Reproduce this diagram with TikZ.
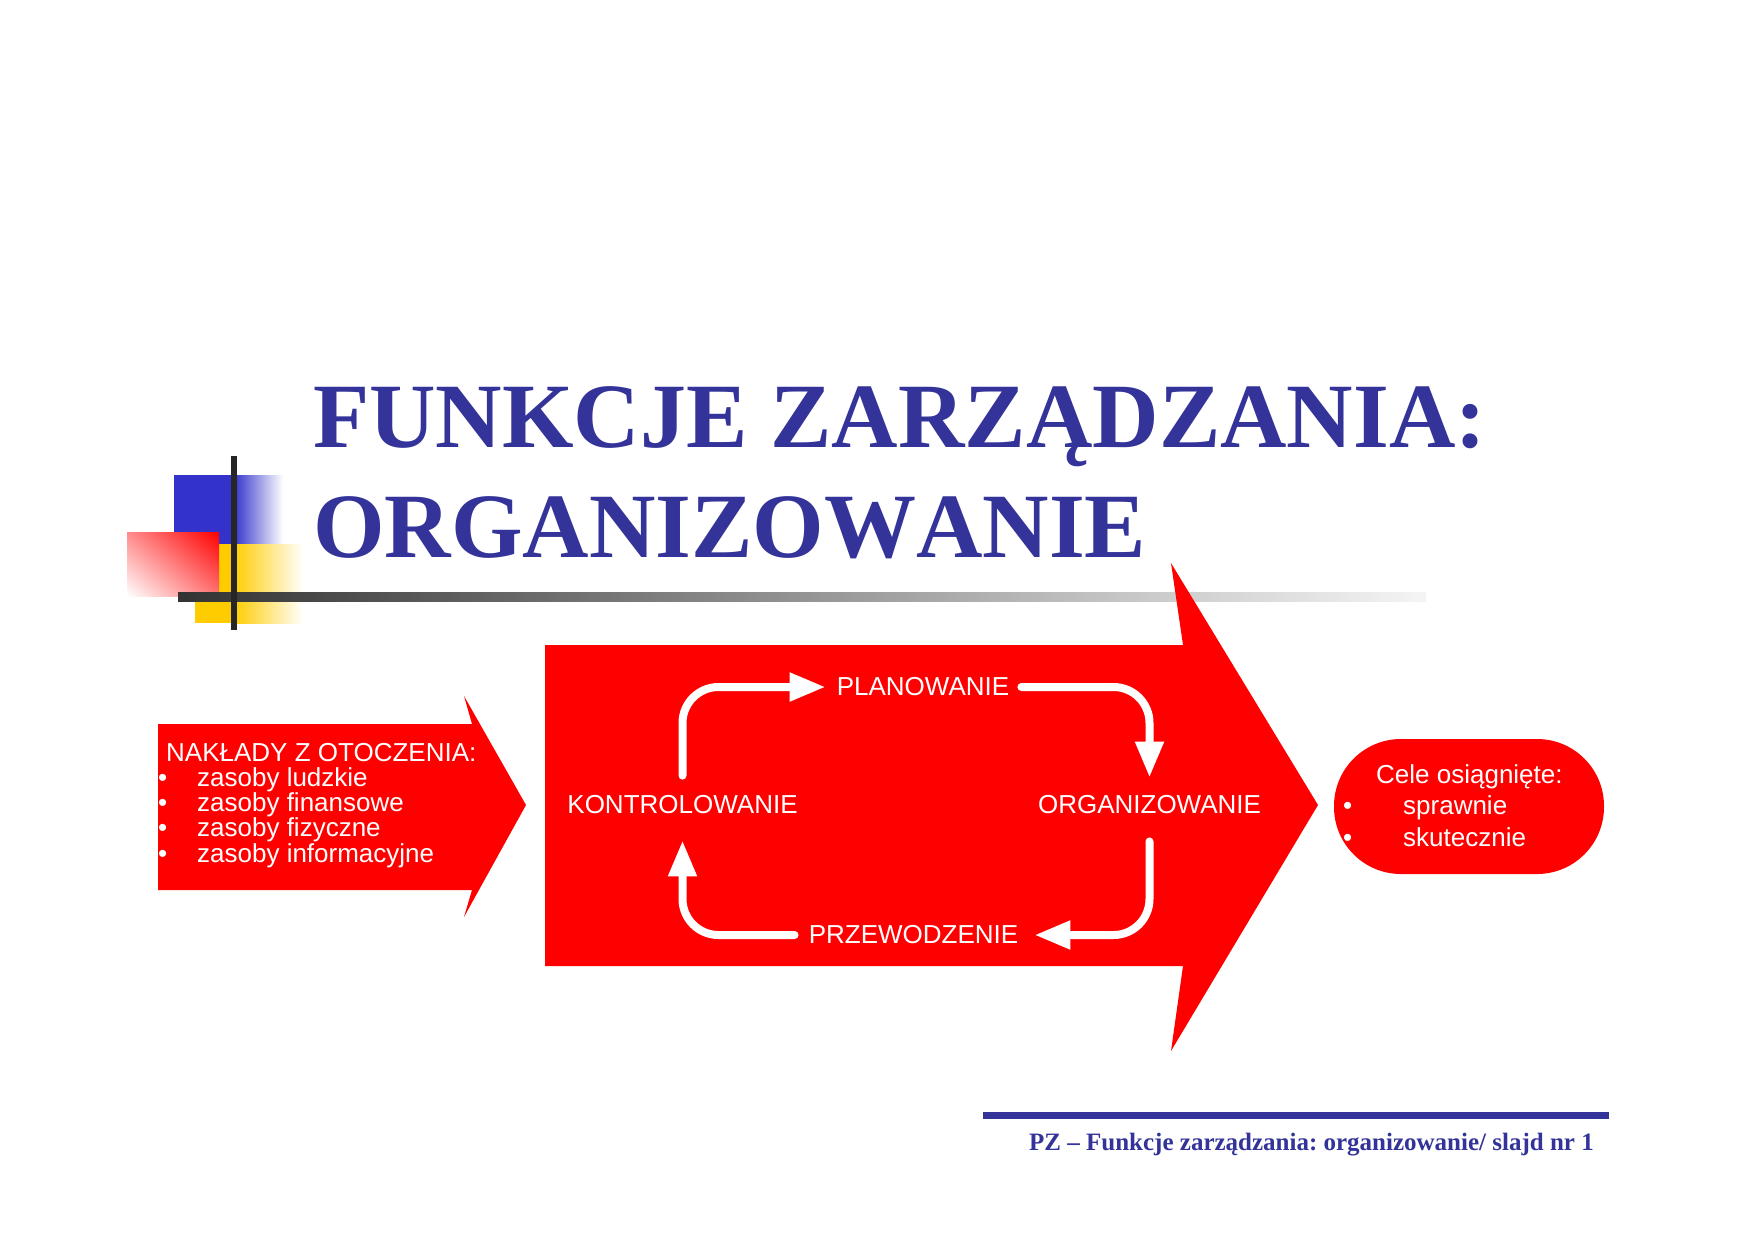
\documentclass[tikz,border=0pt]{standalone}
\usepackage{fontspec}
\setmainfont{Liberation Sans}
\newfontfamily\serifbold{Liberation Serif}[Kerning=Off]
\usetikzlibrary{arrows.meta,shadings}
\definecolor{titleblue}{RGB}{51,51,153}
\definecolor{logoblue}{RGB}{51,51,204}
\definecolor{logoyellow}{RGB}{255,204,0}
\definecolor{pptred}{RGB}{255,0,0}
\frenchspacing
\begin{document}
\begin{tikzpicture}[x=1pt,y=-1pt,
  wtext/.style={text=white, font=\fontsize{26}{26}\selectfont, inner sep=0pt},
  titletext/.style={text=titleblue, font=\serifbold\bfseries\fontsize{92}{92}\selectfont, inner sep=0pt, anchor=base west},
  cyc/.style={draw=white, line width=8pt, line cap=round, rounded corners=36pt, -{Triangle[length=36pt,width=27pt]}},
  redshape/.style={fill=pptred, draw=none}]
\useasboundingbox (0,0) rectangle (1754,1240);
\fill[white] (0,0) rectangle (1754,1240);

% logo
\fill[logoblue] (174,475) rectangle (234,544);
\shade[left color=logoblue, right color=white] (233.5,475) rectangle (283,544);
\fill[logoyellow] (195,544) rectangle (234,623);
\shade[left color=logoyellow, right color=white] (233.5,544) rectangle (303,623);
\shade[upper left=red!45, upper right=pptred, lower left=white, lower right=red!55] (127,532) rectangle (219,596);
\shade[left color=black!80, right color=black!4] (178,592) rectangle (1426,601);
\fill[black!85] (231,456) rectangle (237,630);

% title
\node[titletext] (t1) at (313,447) {FUNKCJE ZARZĄDZANIA:};
\node[titletext] (t2) at (313,557) {ORGANIZOWANIE};

% left arrow
\fill[redshape] (158,724) -- (472,724) -- (464,696) -- (526,805) -- (464,917) -- (472,890) -- (158,890) -- cycle;
\node[wtext, anchor=base west] (n0) at (166,761) {NAKŁADY Z OTOCZENIA:};
\node[wtext, anchor=base west] (n1) at (158,786) {\makebox[39pt][l]{•}zasoby ludzkie};
\node[wtext, anchor=base west] (n2) at (158,811) {\makebox[39pt][l]{•}zasoby finansowe};
\node[wtext, anchor=base west] (n3) at (158,836) {\makebox[39pt][l]{•}zasoby fizyczne};
\node[wtext, anchor=base west] (n4) at (158,862) {\makebox[39pt][l]{•}zasoby informacyjne};

% big arrow
\fill[redshape] (545,645) -- (1183,645) -- (1171,563) -- (1318,805) -- (1171,1051) -- (1183,966) -- (545,966) -- cycle;

% cycle
\node[wtext] (plan) at (923,687) {PLANOWANIE};
\node[wtext] (kon) at (682.5,805) {KONTROLOWANIE};
\node[wtext] (org) at (1149.5,805) {ORGANIZOWANIE};
\node[wtext] (prz) at (913.5,935) {PRZEWODZENIE};
\draw[cyc] ([yshift=20pt]kon.north) |- ([xshift=-11pt]plan.west);
\draw[cyc] ([xshift=12pt]plan.east) -| ([yshift=18pt]org.north);
\draw[cyc] ([yshift=-27pt]org.south) |- ([xshift=16pt]prz.east);
\draw[cyc] ([xshift=-14pt]prz.west) -| ([yshift=-26pt]kon.south);

% goals box
\node[fill=pptred, minimum width=270pt, minimum height=135pt, rounded corners=67pt, inner sep=0pt] (cele) at (1469,806.5) {};
\node[wtext, anchor=base west] (c0) at (1376,783) {Cele osiągnięte:};
\node[wtext, anchor=base west] (c1) at (1343,814) {\makebox[60pt][l]{•}sprawnie};
\node[wtext, anchor=base west] (c2) at (1343,846) {\makebox[60pt][l]{•}skutecznie};

% footer
\draw[titleblue, line width=7pt] (983,1115) -- (1609,1115);
\node[text=titleblue, font=\serifbold\bfseries\fontsize{25}{25}\selectfont, inner sep=0pt, anchor=base west] (foot) at (1029,1150) {PZ – Funkcje zarządzania: organizowanie/ slajd nr 1};
\end{tikzpicture}
\end{document}
